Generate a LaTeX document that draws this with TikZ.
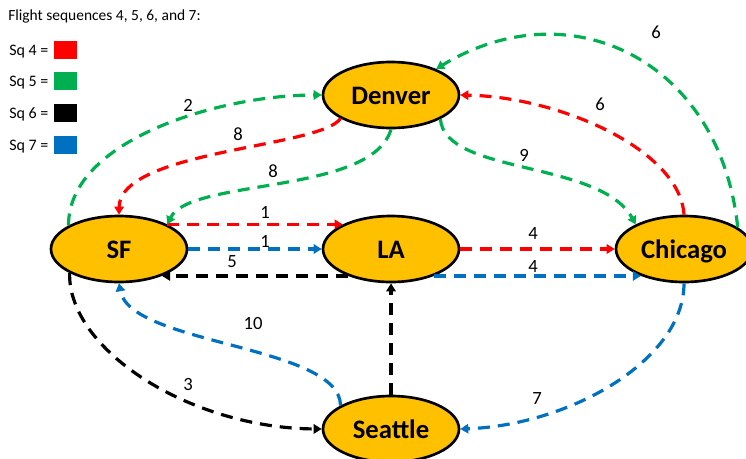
\documentclass[tikz,border=0pt]{standalone}
\usepackage{fontspec}
\setmainfont{Carlito}
\usetikzlibrary{shapes.geometric,arrows.meta}

\definecolor{sqred}{RGB}{255,0,0}
\definecolor{sqgreen}{RGB}{0,176,80}
\definecolor{sqblue}{RGB}{0,112,192}
\definecolor{cityfill}{RGB}{255,192,0}

\tikzset{
  city/.style={ellipse,draw=black,line width=2pt,fill=cityfill,minimum width=102pt,minimum height=49.5pt,inner sep=0pt,text height=14.5pt,text depth=0pt,font=\fontsize{20}{24}\selectfont\bfseries},
  flight/.style={line width=2.4pt,dash pattern=on 9pt off 6pt,-{Triangle[length=6pt,width=7pt]}},
  lbl/.style={font=\fontsize{14}{16}\selectfont,inner sep=0pt},
  keytext/.style={anchor=base west,inner sep=0pt,font=\fontsize{12}{14}\selectfont},
  keybox/.style={minimum width=17.25pt,minimum height=13.5pt,inner sep=0pt},
}

\begin{document}
\begin{tikzpicture}[x=0.75pt,y=-0.75pt]
\useasboundingbox (0,0) rectangle (746,458);

\node[keytext,font=\fontsize{11.6}{14}\selectfont] (title) at (8,20.5) {Flight sequences 4, 5, 6, and 7:};
\node[keytext] (sq4) at (9,55) {Sq 4 =};
\node[keytext] (sq5) at (9,86) {Sq 5 =};
\node[keytext] (sq6) at (9,118) {Sq 6 =};
\node[keytext] (sq7) at (9,150) {Sq 7 =};
\node[keybox,fill=sqred] (key4) at (65.5,50) {};
\node[keybox,fill=sqgreen] (key5) at (65.5,81) {};
\node[keybox,fill=black] (key6) at (65.5,113) {};
\node[keybox,fill=sqblue] (key7) at (65.5,145) {};

\node[city] (Denver) at (391,95) {Denver};
\node[city] (SF) at (119,249) {SF};
\node[city] (LA) at (391,249) {LA};
\node[city] (Chicago) at (684,249) {Chicago};
\node[city] (Seattle) at (391,429) {Seattle};

\draw[flight,sqred] (SF.27) -- (LA.153);
\draw[flight,sqblue] (SF.east) -- (LA.west);
\draw[flight,black] (LA.212) -- (SF.328);
\draw[flight,sqred] (LA.east) -- (Chicago.west);
\draw[flight,sqblue] (LA.328) -- (Chicago.212);
\draw[flight,black] (Seattle.north) -- (LA.south);
\draw[flight,black] (SF.206) .. controls (68,350) and (190,428) .. (Seattle.west);
\draw[flight,sqblue] (Seattle.155) .. controls (340,345) and (130,345) .. (SF.south);
\draw[flight,sqblue] (Chicago.south) .. controls (684,360) and (570,425) .. (Seattle.east);
\draw[flight,sqgreen] (SF.155) .. controls (68,140) and (220,95) .. (Denver.west);
\draw[flight,sqred] (Denver.205) .. controls (320,148) and (120,150) .. (SF.north);
\draw[flight,sqgreen] (Denver.south) .. controls (372,195) and (190,178) .. (SF.27);
\draw[flight,sqgreen] (Denver.334) .. controls (445,175) and (600,160) .. (Chicago.153);
\draw[flight,sqred] (Chicago.north) .. controls (680,150) and (560,97) .. (Denver.east);
\draw[flight,sqgreen] (Chicago.22) .. controls (720,60) and (570,-12) .. (Denver.30);

\node[lbl] (l1r) at (265,212) {1};
\node[lbl] (l1b) at (265,241) {1};
\node[lbl] (l5) at (232,262) {5};
\node[lbl] (l4r) at (533,234) {4};
\node[lbl] (l4b) at (533,266) {4};
\node[lbl] (l3) at (188,384) {3};
\node[lbl] (l10) at (253,323) {10};
\node[lbl] (l7) at (537,399) {7};
\node[lbl] (l2) at (188,105) {2};
\node[lbl] (l8r) at (238,134) {8};
\node[lbl] (l8g) at (273,171) {8};
\node[lbl] (l9) at (524,155) {9};
\node[lbl] (l6r) at (600,104) {6};
\node[lbl] (l6g) at (656,32) {6};

\end{tikzpicture}
\end{document}
